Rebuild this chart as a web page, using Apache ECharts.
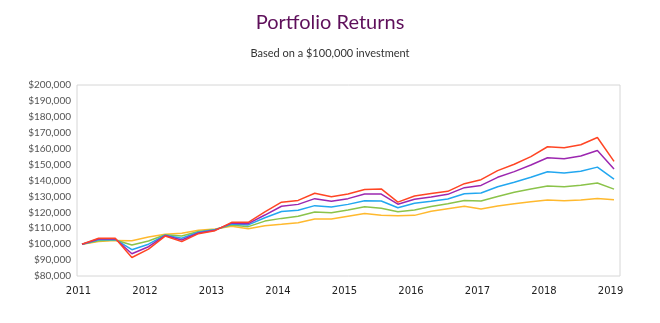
<!DOCTYPE html>
<html>
<head>
<meta charset="utf-8">
<script src="https://cdn.jsdelivr.net/npm/echarts@6/dist/echarts.min.js"></script>
<style>html,body{margin:0;padding:0;background:#fff;}#c{width:660px;height:323px;}</style>
</head>
<body>
<div id="c"></div>
<script>
// Quarterly values, 2011 Q1 .. 2019 Q1 (in $)
const yearLabels = ['2011','2012','2013','2014','2015','2016','2017','2018','2019'];
const seriesNames = ['Aggressive','Growth','Balanced','Moderate','Conservative'];
const red = [100000,103700,103700,91600,96900,105100,101600,106600,108500,113700,113700,120300,126400,127500,132000,129800,131500,134400,134700,126400,130300,131800,133200,138000,140500,146200,150200,155000,161200,160600,162500,167000,152000];
const purple = [100000,103200,103400,94000,98400,105400,102600,107000,108800,113200,112900,118300,123800,125000,128600,126900,128600,131500,131500,125100,128200,129700,131300,135500,136900,142000,145600,149700,154300,153700,155400,158800,147300];
const blue = [100000,102700,103000,96500,100000,105600,103700,107500,109000,112700,112100,116600,120500,121300,124200,123400,125000,127300,127100,122900,125700,127000,128400,131700,132100,136100,138900,142000,145500,144700,145800,148400,140900];
const green = [100000,102200,102600,99500,102000,105900,105100,108000,109200,112000,111000,114500,116200,117500,120200,119800,121500,123500,122500,120300,121500,123700,125400,127500,127100,130000,132600,134700,136500,136100,137000,138400,134600];
const orange = [100000,101600,102300,102200,104500,106200,106800,108700,109500,111200,109700,111600,112500,113500,115800,115800,117500,119200,118100,117800,118100,120700,122300,123800,122100,124000,125400,126700,127800,127300,127800,128700,127900];
const allSeries = [red, purple, blue, green, orange];
const colors = ['#FF4524','#9C27B0','#22A7F0','#8BC34A','#FFB92E'];

const chart = echarts.init(document.getElementById('c'), null, {renderer:'canvas'});
const labelVals = yearLabels.map((y,i)=>i*4);
chart.setOption({
  animation:false,
  title:[
    {text:'Portfolio Returns', left:'center', top:8, textStyle:{fontFamily:'Lato', fontSize:20, fontWeight:'normal', color:'#5E0F5A'}},
    {text:'Based on a $100,000 investment', left:'center', top:43, textStyle:{fontFamily:'Lato', fontSize:11, fontWeight:'normal', color:'#333'}}
  ],
  grid:{left:77, right:40, top:85, bottom:47, show:true, borderColor:'#d6d6d6', borderWidth:1},
  xAxis:{
    type:'value', min:-0.3, max:32.36,
    axisLine:{show:false}, axisTick:{show:false}, splitLine:{show:false},
    axisLabel:{customValues:labelVals, formatter:v=>yearLabels[Math.round(v/4)], fontFamily:'DejaVu Sans', fontSize:10, color:'#222', margin:10, padding:[0,7,0,0]}
  },
  yAxis:{
    type:'value', min:80000, max:200000, interval:10000,
    axisLine:{show:false}, axisTick:{show:false}, splitLine:{show:false},
    axisLabel:{formatter:v=>'$'+v.toLocaleString('en-US'), fontFamily:'Lato', fontSize:10, color:'#555', margin:6}
  },
  series: allSeries.map((d,k)=>({
    name:seriesNames[k], type:'line', data:d.map((v,i)=>[i,v]), symbol:'none',
    lineStyle:{width:1.5, color:colors[k]}, itemStyle:{color:colors[k]}, z:10-k
  }))
});
</script>
</body>
</html>
